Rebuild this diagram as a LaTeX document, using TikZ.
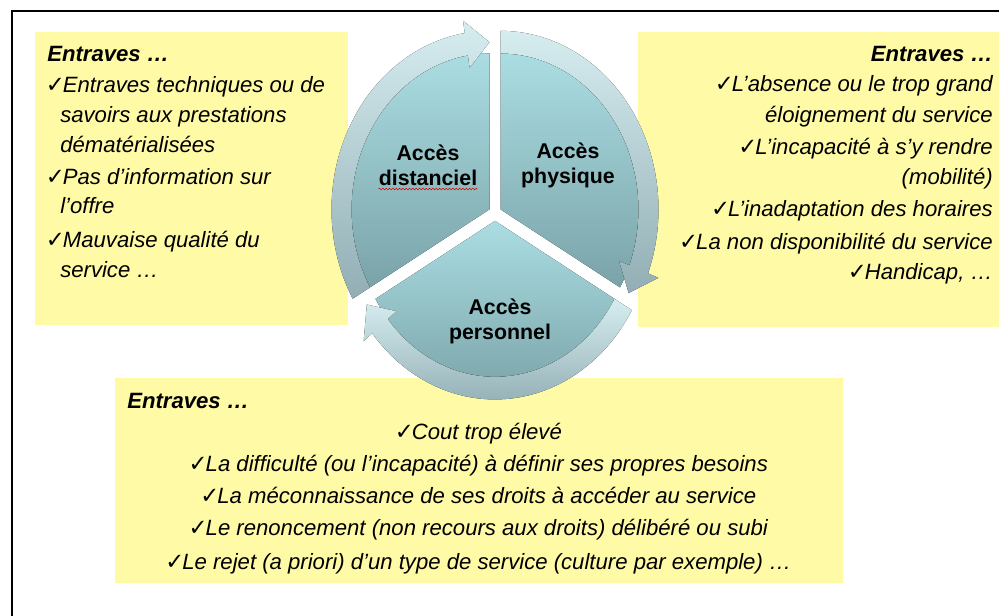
\documentclass[tikz,border=0pt]{standalone}
\usepackage{fontspec}
\setmainfont{Liberation Sans}
\newfontfamily\symfont{DejaVu Sans}
\usepackage{xcolor}
\usepackage{tikz}
\usetikzlibrary{decorations.pathmorphing}
\definecolor{notey}{RGB}{255,250,165}
\definecolor{pietop}{RGB}{170,221,226}
\definecolor{piebot}{RGB}{122,163,168}
\definecolor{ringtop}{RGB}{214,237,240}
\definecolor{ringbot}{RGB}{146,174,180}
\newcommand{\ok}{{\symfont\fontsize{17}{17}\selectfont\kern-1pt ✓\kern-1.5pt}}

\begin{document}
\begin{tikzpicture}[x=0.75pt,y=-0.75pt,
    note/.style={fill=notey},
    txt/.style={inner sep=0pt,font=\fontsize{16.6}{20}\selectfont\itshape},
    head/.style={inner sep=0pt,font=\fontsize{16.6}{20}\selectfont\bfseries\itshape},
    lbl/.style={inner sep=0pt,align=center,font=\fontsize{16}{18.75}\selectfont\bfseries},
    pie/.style={top color=pietop,bottom color=piebot},
    ring/.style={top color=ringtop,bottom color=ringbot}]
    \clip (0,0) rectangle (999,616);
    \fill[white] (0,0) rectangle (999,616);
    \draw[line width=1.2pt] (12,11) rectangle (1012,632);
    \fill[note] (35,32) rectangle (348,325);
    \fill[note] (638,32) rectangle (1005,327);
    \fill[note] (115,378) rectangle (843,583);
    \begin{scope}[shift={(495,213)},yscale=1.13]
      \foreach \a/\b/\d in {150/270/6.35,270/390/6.35,30/150/7}{
        \begin{scope}[shift={({(\a+\b)/2}:\d)}]
          \fill[pie] (0,0) -- (\a:138) arc[start angle=\a,end angle=\b,radius=138] -- cycle;
          \fill[ring] (\a:138) arc[start angle=\a,end angle=\b-9,radius=138]
            -- ({\b-9}:127) -- (\b:148) -- ({\b-9}:169) -- ({\b-9}:158)
            arc[start angle=\b-9,end angle=\a,radius=158] -- cycle;
        \end{scope}
      }
    \end{scope}
    \node[lbl] (dist) at (428,165) {Accès\\distanciel};
    \node[lbl] (phys) at (568,165) {Accès\\physique};
    \node[lbl] (pers) at (500,321) {Accès\\personnel};
    \draw[red!85!black,line width=0.4pt,decorate,decoration={snake,amplitude=0.6pt,segment length=2.5pt}]
      ([yshift=-2.5pt]dist.south west) -- ([yshift=-2.5pt]dist.south east);
    \node[head,anchor=base west] (lt) at (47,62) {Entraves …};
    \node[txt,anchor=base west] (la) at (47,93) {\ok Entraves techniques ou de};
    \node[txt,anchor=base west] (la2) at (60,123) {savoirs aux prestations};
    \node[txt,anchor=base west] (la3) at (60,153) {dématérialisées};
    \node[txt,anchor=base west] (lb) at (47,185) {\ok Pas d’information sur};
    \node[txt,anchor=base west] (lb2) at (60,214) {l’offre};
    \node[txt,anchor=base west] (lc) at (47,248) {\ok Mauvaise qualité du};
    \node[txt,anchor=base west] (lc2) at (60,278) {service …};
    \node[head,anchor=base east] (rt) at (993,62) {Entraves …};
    \node[txt,anchor=base east] (ra) at (993,92) {\ok L’absence ou le trop grand};
    \node[txt,anchor=base east] (ra2) at (993,123) {éloignement du service};
    \node[txt,anchor=base east] (rb) at (993,155) {\ok L’incapacité à s’y rendre};
    \node[txt,anchor=base east] (rb2) at (993,185) {(mobilité)};
    \node[txt,anchor=base east] (rc) at (993,217) {\ok L’inadaptation des horaires};
    \node[txt,anchor=base east] (rd) at (993,250) {\ok La non disponibilité du service};
    \node[txt,anchor=base east] (re) at (993,280) {\ok Handicap, …};
    \node[head,anchor=base west] (bt) at (127,408) {Entraves …};
    \node[txt,anchor=base] (ba) at (479,439) {\ok Cout trop élevé};
    \node[txt,anchor=base] (bb) at (479,471) {\ok La difficulté (ou l’incapacité) à définir ses propres besoins};
    \node[txt,anchor=base] (bc) at (479,503) {\ok La méconnaissance de ses droits à accéder au service};
    \node[txt,anchor=base] (bd) at (479,535) {\ok Le renoncement (non recours aux droits) délibéré ou subi};
    \node[txt,anchor=base] (be) at (479,569) {\ok Le rejet (a priori) d’un type de service (culture par exemple) …};
  \end{tikzpicture}
\end{document}
